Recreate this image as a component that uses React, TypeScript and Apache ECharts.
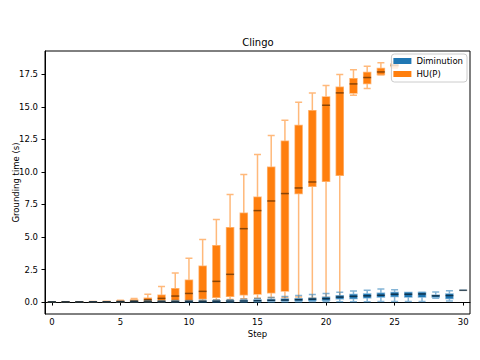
import React, { useEffect, useRef } from "react";
import * as echarts from "echarts";

const steps: string[] = Array.from({ length: 31 }, (_, i) => String(i));

// [min, Q1, median, Q3, max]
const diminution: number[][] = [
  [0, 0, 0.01, 0.01, 0.02],
  [0, 0, 0.01, 0.01, 0.02],
  [0, 0, 0.01, 0.01, 0.02],
  [0, 0.01, 0.01, 0.02, 0.03],
  [0, 0.01, 0.01, 0.02, 0.03],
  [0, 0.01, 0.02, 0.03, 0.05],
  [0, 0.01, 0.02, 0.04, 0.07],
  [0, 0.02, 0.03, 0.05, 0.09],
  [0, 0.02, 0.03, 0.06, 0.1],
  [0, 0.02, 0.04, 0.06, 0.11],
  [0, 0.03, 0.05, 0.07, 0.12],
  [0, 0.03, 0.05, 0.08, 0.14],
  [0, 0.03, 0.06, 0.09, 0.16],
  [0, 0.04, 0.07, 0.1, 0.18],
  [0.01, 0.05, 0.08, 0.12, 0.22],
  [0.01, 0.06, 0.1, 0.15, 0.28],
  [0.01, 0.08, 0.13, 0.2, 0.35],
  [0.01, 0.09, 0.15, 0.23, 0.42],
  [0.01, 0.1, 0.18, 0.26, 0.5],
  [0.02, 0.12, 0.22, 0.3, 0.58],
  [0.02, 0.14, 0.26, 0.36, 0.66],
  [0.02, 0.26, 0.38, 0.48, 0.76],
  [0.03, 0.28, 0.44, 0.58, 0.84],
  [0.03, 0.32, 0.48, 0.62, 0.9],
  [0.04, 0.38, 0.52, 0.68, 1.0],
  [0.05, 0.42, 0.6, 0.74, 0.95],
  [0.05, 0.38, 0.6, 0.74, 0.74],
  [0.05, 0.38, 0.62, 0.74, 0.76],
  [0.3, 0.38, 0.48, 0.52, 0.78],
  [0.08, 0.28, 0.5, 0.62, 0.86],
  [0.9, 0.9, 0.9, 0.9, 0.9],
];

const huP: number[][] = [
  [0, 0, 0.01, 0.01, 0.02],
  [0, 0.01, 0.01, 0.02, 0.03],
  [0, 0.01, 0.01, 0.02, 0.03],
  [0, 0.01, 0.02, 0.03, 0.04],
  [0, 0.01, 0.02, 0.04, 0.06],
  [0.01, 0.03, 0.05, 0.08, 0.14],
  [0.02, 0.04, 0.08, 0.16, 0.28],
  [0.02, 0.06, 0.18, 0.3, 0.6],
  [0.03, 0.1, 0.28, 0.52, 1.2],
  [0.05, 0.16, 0.46, 1.02, 2.23],
  [0.08, 0.15, 0.66, 1.67, 3.36],
  [0.1, 0.26, 0.82, 2.75, 4.8],
  [0.15, 0.36, 1.59, 4.33, 6.34],
  [0.2, 0.44, 2.13, 5.72, 8.26],
  [0.25, 0.56, 5.64, 6.82, 9.8],
  [0.3, 0.62, 7.03, 8.05, 11.34],
  [0.35, 0.72, 7.77, 10.36, 12.8],
  [0.35, 0.85, 8.34, 12.36, 13.98],
  [0.38, 8.34, 8.77, 13.57, 15.36],
  [0.3, 8.9, 9.23, 14.7, 16.08],
  [0.35, 9.28, 15.13, 15.77, 16.64],
  [0.4, 9.75, 16.08, 16.52, 17.49],
  [15.9, 16.08, 16.77, 17.16, 17.85],
  [16.41, 16.8, 17.26, 17.64, 18.13],
  [17.45, 17.49, 17.69, 17.95, 18.39],
  [18.0, 18.1, 18.2, 18.3, 18.45],
];

const yTicks: number[] = [0, 2.5, 5, 7.5, 10, 12.5, 15, 17.5];

const BLUE = "#1f77b4";
const ORANGE = "#ff7f0e";
const FONT = "DejaVu Sans";
const FS = 8.5;

export default function App() {
  const ref = useRef<HTMLDivElement>(null);
  useEffect(() => {
    if (!ref.current) return;
    const chart = echarts.init(ref.current, undefined, { renderer: "svg" });
    const medians = (arr: number[][]) => arr.map((d, i) => [i, d[2]]);
    chart.setOption({
      animation: false,
      backgroundColor: "#fff",
      textStyle: { fontFamily: FONT },
      title: {
        text: "Clingo",
        left: 258,
        textAlign: "center",
        top: 36,
        padding: 0,
        textStyle: { fontSize: 10, fontWeight: "normal", color: "#000", fontFamily: FONT, lineHeight: 12 },
      },
      legend: {
        orient: "vertical",
        right: 13,
        top: 54,
        icon: "rect",
        itemWidth: 18,
        itemHeight: 6,
        itemGap: 3,
        padding: [2, 4, 3, 2],
        backgroundColor: "rgba(255,255,255,0.8)",
        borderColor: "#cccccc",
        borderWidth: 1,
        borderRadius: 3,
        textStyle: { fontSize: FS, color: "#000", fontFamily: FONT, lineHeight: 10 },
        data: [
          { name: "Diminution", itemStyle: { color: BLUE, borderWidth: 0 } },
          { name: "HU(P)", itemStyle: { color: ORANGE, borderWidth: 0 } },
        ],
        z: 10,
      },
      grid: {
        left: 45,
        right: 10,
        top: 51,
        bottom: 46,
        outerBoundsMode: "none",
        containLabel: false,
        show: true,
        borderColor: "#000",
        borderWidth: 1,
        backgroundColor: "transparent",
      },
      xAxis: [
        {
          type: "category",
          data: steps,
          name: "Step",
          nameLocation: "middle",
          nameGap: 15,
          nameMoveOverlap: false,
          nameTextStyle: { fontSize: FS, color: "#000", fontFamily: FONT },
          axisLine: { show: true, lineStyle: { color: "#000" } },
          axisTick: { show: true, interval: 4, alignWithLabel: true, length: 3.5, lineStyle: { color: "#000" } },
          axisLabel: { interval: 4, fontSize: FS, color: "#000", margin: 3, fontFamily: FONT },
          splitLine: { show: false },
        },
        {
          type: "category",
          data: steps,
          show: false,
          position: "bottom",
        },
      ],
      yAxis: {
        type: "value",
        min: -0.92,
        max: 19.3,
        name: "Grounding time (s)",
        nameLocation: "middle",
        nameGap: 25,
        nameMoveOverlap: false,
        nameTextStyle: { fontSize: FS, color: "#000", fontFamily: FONT },
        axisLine: { show: true, lineStyle: { color: "#000" } },
        axisTick: { show: true, length: 3.5, customValues: yTicks, lineStyle: { color: "#000" } },
        axisLabel: {
          fontSize: FS,
          color: "#000",
          margin: 7,
          fontFamily: FONT,
          customValues: yTicks,
          formatter: (v: number) => v.toFixed(1),
        },
        splitLine: { show: false },
      },
      series: [
        {
          name: "HU(P)",
          type: "boxplot",
          xAxisIndex: 1,
          boxWidth: [7, 7],
          data: huP,
          z: 2,
          itemStyle: { color: ORANGE, borderColor: "rgba(255,127,14,0.55)", borderWidth: 1.5 },
        },
        {
          name: "HU(P) median",
          type: "scatter",
          xAxisIndex: 1,
          symbol: "rect",
          symbolSize: [8, 1.5],
          data: medians(huP),
          z: 3,
          itemStyle: { color: "rgba(60,30,0,0.75)" },
          silent: true,
        },
        {
          name: "Diminution",
          type: "boxplot",
          xAxisIndex: 0,
          boxWidth: [7, 7],
          data: diminution,
          z: 4,
          itemStyle: { color: BLUE, borderColor: "rgba(31,119,180,0.55)", borderWidth: 1.5 },
        },
        {
          name: "Diminution median",
          type: "scatter",
          xAxisIndex: 0,
          symbol: "rect",
          symbolSize: [8, 1.5],
          data: medians(diminution),
          z: 5,
          itemStyle: { color: "rgba(0,0,0,0.7)" },
          silent: true,
        },
      ],
    });
    return () => chart.dispose();
  }, []);
  return (
    <div
      ref={ref}
      style={{ position: "fixed", left: 0, top: 0, width: 480, height: 360 }}
    />
  );
}
